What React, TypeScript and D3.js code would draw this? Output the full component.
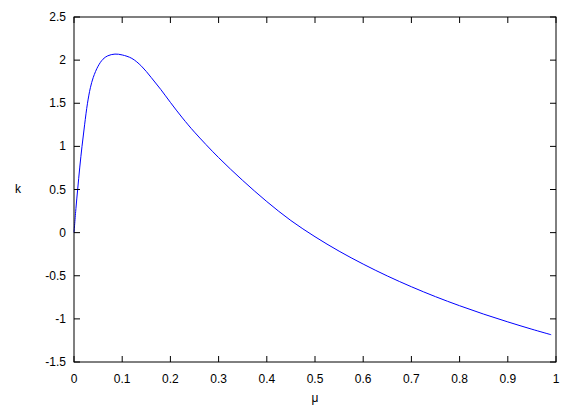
import React from "react";
import * as d3 from "d3";

const muValues = [0, 0.004, 0.0076, 0.012, 0.0166, 0.022, 0.028, 0.034, 0.04, 0.05, 0.06, 0.07, 0.085, 0.1, 0.12, 0.14, 0.16, 0.18, 0.2, 0.225, 0.25, 0.3, 0.35, 0.4, 0.45, 0.5, 0.55, 0.6, 0.65, 0.7, 0.75, 0.8, 0.85, 0.9, 0.95, 0.99];
const kValues = [0, 0.28, 0.5, 0.76, 1.0, 1.25, 1.5, 1.68, 1.8, 1.93, 2.01, 2.05, 2.07, 2.06, 2.02, 1.93, 1.8, 1.66, 1.51, 1.33, 1.165, 0.87, 0.605, 0.36, 0.14, -0.0475, -0.215, -0.365, -0.5025, -0.6275, -0.7425, -0.8475, -0.945, -1.035, -1.12, -1.184];
const xTicks = [0, 0.1, 0.2, 0.3, 0.4, 0.5, 0.6, 0.7, 0.8, 0.9, 1];
const yTicks = [-1.5, -1, -0.5, 0, 0.5, 1, 1.5, 2, 2.5];
const xLabel = "μ";
const yLabel = "k";

export default function App() {
  const W = 581, H = 407;
  const L = 74, R = 556, T = 17, B = 362;
  const x = d3.scaleLinear().domain([0, 1]).range([L, R]);
  const y = d3.scaleLinear().domain([-1.5, 2.5]).range([B, T]);
  const data = muValues.map((m, i) => [m, kValues[i]] as [number, number]);
  const line = d3.line<[number, number]>().x(d => x(d[0])).y(d => y(d[1])).curve(d3.curveCatmullRom.alpha(0.5));
  const font = "'Liberation Sans', Arial, sans-serif";
  const tl = 6;
  return (
    <svg width={W} height={H} style={{ position: "absolute", left: 0, top: 0, background: "#fff" }}>
      <rect x={0} y={0} width={W} height={H} fill="#fff" />
      <path d={line(data) || ""} fill="none" stroke="#0000ff" strokeWidth={1} />
      {xTicks.map((t, i) => (
        <g key={"x" + i}>
          <line x1={x(t)} x2={x(t)} y1={B} y2={B - tl} stroke="#000" />
          <line x1={x(t)} x2={x(t)} y1={T} y2={T + tl} stroke="#000" />
          <text x={x(t)} y={383} textAnchor="middle" fontFamily={font} fontSize={12} fill="#000">{String(t)}</text>
        </g>
      ))}
      {yTicks.map((t, i) => (
        <g key={"y" + i}>
          <line x1={L} x2={L + tl} y1={y(t)} y2={y(t)} stroke="#000" />
          <line x1={R} x2={R - tl} y1={y(t)} y2={y(t)} stroke="#000" />
          <text x={66} y={y(t) + 4} textAnchor="end" fontFamily={font} fontSize={12} fill="#000">{String(t)}</text>
        </g>
      ))}
      <rect x={L} y={T} width={R - L} height={B - T} fill="none" stroke="#000" strokeWidth={1} />
      <text x={(L + R) / 2} y={402} textAnchor="middle" fontFamily={font} fontSize={12} fill="#000">{xLabel}</text>
      <text x={18} y={193} textAnchor="middle" fontFamily={font} fontSize={12} fill="#000">{yLabel}</text>
    </svg>
  );
}
